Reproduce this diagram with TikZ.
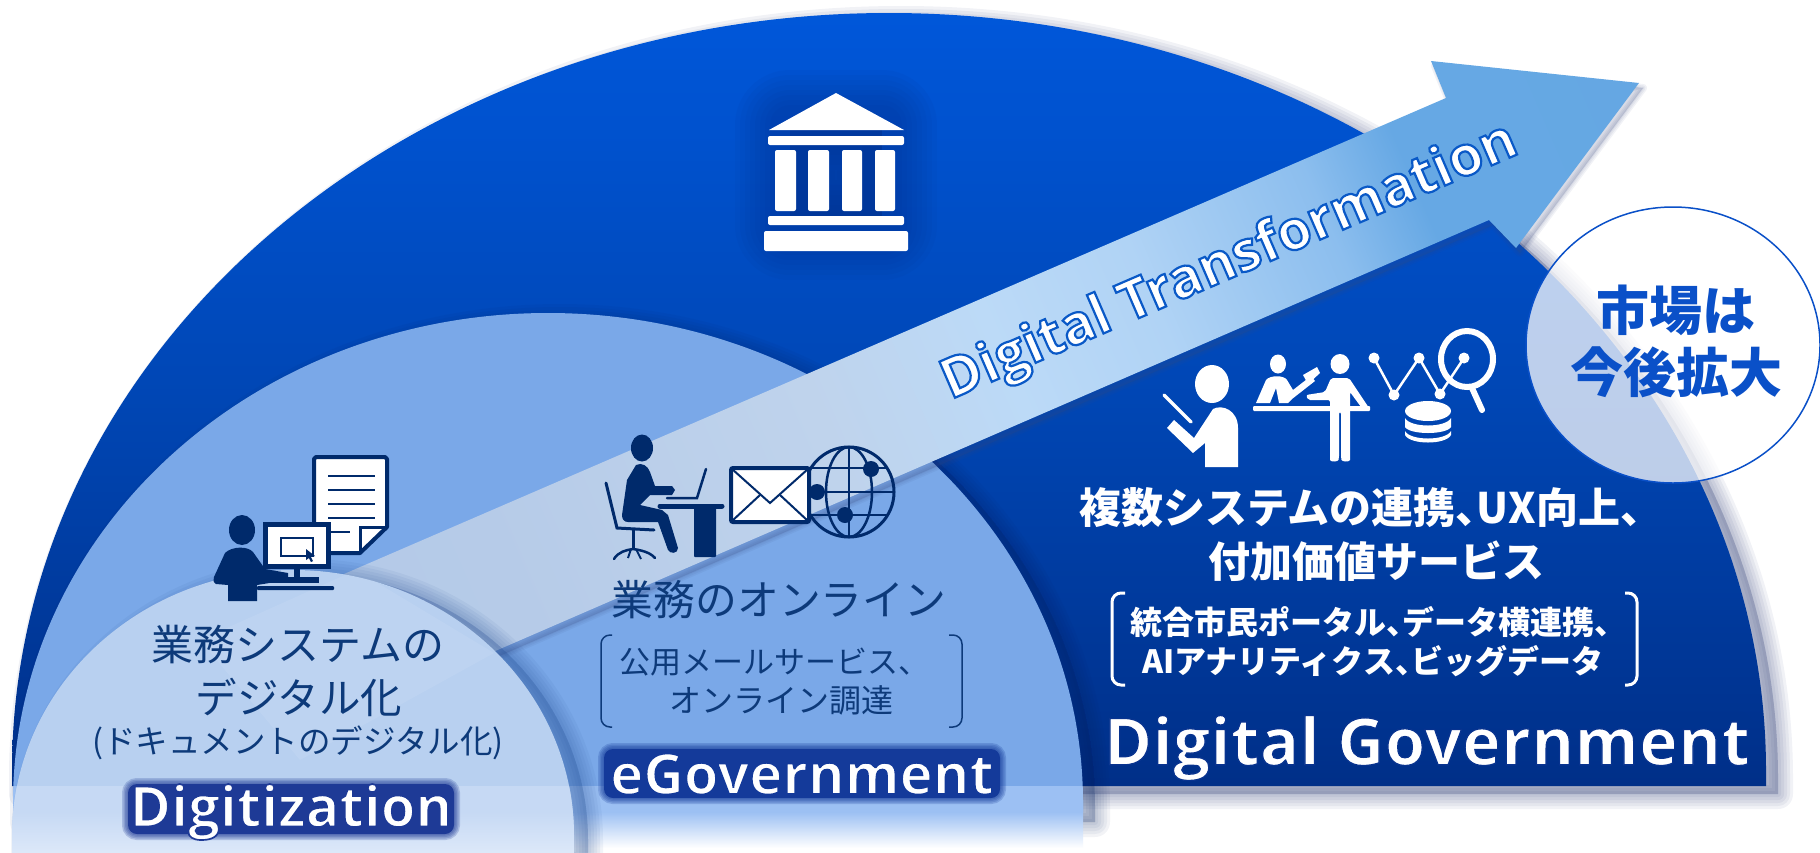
\documentclass[tikz,border=0pt]{standalone}
\usepackage{fontspec}
\usetikzlibrary{calc}
\setmainfont{Noto Sans}
\newfontfamily\cjk{Noto Sans CJK JP}
\newfontfamily\strkT[FakeBold=4]{Open Sans}
\newfontfamily\strkB[FakeBold=3]{Open Sans}
\newfontfamily\strkG[FakeBold=2,LetterSpace=1]{Open Sans}
\newcommand\fsz[1]{\fontsize{#1pt}{#1pt}\selectfont}
\newcommand\hc{\makebox[.5em][l]{、}}
\definecolor{navyicon}{HTML}{002A6B}
\definecolor{inktext}{HTML}{0D3A7A}
\definecolor{midblue}{HTML}{7AA8E8}
\definecolor{midband}{HTML}{9CC0F3}
\definecolor{lowblue}{HTML}{B8D0F0}
\definecolor{lowband}{HTML}{C6D9F4}
\definecolor{lowfade}{HTML}{DCE8F9}
\definecolor{domeA}{HTML}{0057DA}
\definecolor{domeB}{HTML}{0046B4}
\definecolor{domeC}{HTML}{002F88}
\definecolor{cA}{HTML}{A8C4EA}
\definecolor{cB}{HTML}{B6CBE8}
\definecolor{cC}{HTML}{BFD3EC}
\definecolor{cD}{HTML}{BCDAF7}
\definecolor{cE}{HTML}{B0D3F5}
\definecolor{cF}{HTML}{8CBEEE}
\definecolor{cG}{HTML}{66A8E4}
\definecolor{cH}{HTML}{62A5E0}
\definecolor{marketblue}{HTML}{0A50C8}
\pgfdeclarehorizontalshading{dtarrow}{100bp}{color(0bp)=(cA);color(33bp)=(cB);color(44bp)=(cC);color(50bp)=(cD);color(55bp)=(cE);color(61bp)=(cF);color(64bp)=(cG);color(100bp)=(cH)}
\pgfdeclareverticalshading{bigdomeshade}{100bp}{color(0bp)=(domeC);color(25bp)=(domeC);color(50bp)=(domeB);color(75bp)=(domeA);color(100bp)=(domeA)}
\newcommand\domepath[5]{%
  ({#1-#3},#5) -- ({#1-#3},#2)
  .. controls ({#1-#3},{#2-.5523*#4}) and ({#1-.5523*#3},{#2-#4}) .. (#1,{#2-#4})
  .. controls ({#1+.5523*#3},{#2-#4}) and ({#1+#3},{#2-.5523*#4}) .. ({#1+#3},#2)
  -- ({#1+#3},#5) -- cycle}
\def\bigdome{\domepath{889}{771}{877}{758}{786}}
\def\middome{\domepath{548}{803}{535}{490}{812}}
\def\middomeS{\domepath{548}{803}{535}{490}{816}}
\def\lowdome{\domepath{293}{836}{281}{266}{860}}
\def\arrowpath{(300,593) -- (1446,98) -- (1431,61) -- (1639,83) -- (1516,248) -- (1489,220) -- (440,675) -- cycle}
\newcommand\softshadow[6][.07]{%
  \foreach \w in {#6}{\path[draw=#2,fill=#2,line width=\w pt,line join=round,opacity=#1,shift={(#3,#4)}] #5;}}
% one text: white fill, coloured outline (stroke set by the faux-bold font)
\newcommand\halonode[7][0]{% rot, name, pos, font, rgb stroke, size, text
  \node[inner sep=0pt,rotate=#1] (#2) at (#3) {\color{white}\special{pdf:code #5 RG}#4\bfseries\fsz{#6}#7};}
\tikzset{
  cjkthin/.style={text=inktext,inner sep=0pt,font=\cjk},
  cjkwhite/.style={text=white,inner sep=0pt,font=\cjk\bfseries},
  brk/.style={rounded corners=9pt,line width=#1},
  brk/.default=1.5pt
}
\begin{document}
\begin{tikzpicture}[x=1pt,y=-1pt,line cap=butt]
\useasboundingbox (0,0) rectangle (1820,852);
\clip (0,0) rectangle (1820,852);
\fill[white] (0,0) rectangle (1820,852);
% big dome
\definecolor{shadowc}{HTML}{3A4A80}
\softshadow{shadowc}{12}{8}{\bigdome}{6,12,18,24,30}
\shade[shading=bigdomeshade] \bigdome;
% middle dome
\definecolor{shadowd}{HTML}{002060}
\softshadow[.05]{shadowd}{12}{6}{\middomeS}{6,12,18,24,30}
\fill[midblue] \middome;
\begin{scope}
  \clip (0,786) rectangle (1820,812);
  \fill[midband] \middome;
\end{scope}
\shade[top color=midband,bottom color=white] (13,812) rectangle (1083,848);
% arrow
\softshadow{shadowc}{4}{5}{\arrowpath}{2,5,8}
\begin{scope}
  \clip \arrowpath;
  \shade[shading=dtarrow,shading angle=23.4] (200,-450) rectangle (1800,1150);
\end{scope}
% small dome
\definecolor{shadowe}{HTML}{204A90}
\softshadow[.06]{shadowe}{14}{4}{\lowdome}{6,12,18,24,30}
\fill[lowblue] \lowdome;
\begin{scope}
  \clip \lowdome;
  \fill[white,opacity=.08] (300,760) -- (494,653) -- (356,570) -- (200,640) -- cycle;
  \fill[lowband] (0,786) rectangle (600,812);
  \shade[top color=lowband,bottom color=lowfade] (0,812) rectangle (600,852);
\end{scope}
% bank icon
\softshadow[.06]{domeC}{0}{0}{(790,125) -- (882,125) -- (882,225) -- (790,225) -- cycle}{40,50,60,70,80,90,100,110}
\fill[white] (836,93) -- (904,130) -- (769,130) -- cycle;
\fill[white,rounded corners=2pt] (768,136) rectangle (904,145);
\foreach \a/\b in {775/796,808/829,842/862,875/895}{\fill[white,rounded corners=2pt] (\a,150) rectangle (\b,211);}
\fill[white,rounded corners=2pt] (768,216) rectangle (904,225);
\fill[white,rounded corners=2pt] (764,231) rectangle (908,251);
% digitization icon
\begin{scope}[navyicon]
  \draw[line width=4pt,fill=white,line join=round] (316,457) -- (385,457) -- (387,459) -- (387,527) -- (360,553) -- (316,553) -- (314,551) -- (314,459) -- cycle;
  \draw[line width=3pt] (360,553) -- (360,527) -- (387,527);
  \foreach \y in {476,490,504,518}{\draw[line width=2.5pt] (328,\y) -- (375,\y);}
  \draw[line width=2.5pt] (328,532) -- (350,532);
  \draw[line width=5pt,fill=white] (265.5,524.5) rectangle (328.5,566.5);
  \draw[line width=2pt] (281,538) rectangle (313,556);
  \fill (306,549) -- (315,556) -- (311,557) -- (313,561) -- (311,562) -- (309,558) -- (306,560) -- cycle;
  \fill (294,569) rectangle (300,577);
  \fill (261,577) rectangle (319,583);
  \fill[rounded corners=1pt] (257,586) rectangle (334,590);
  \fill (242,530) ellipse [x radius=13,y radius=15];
  \fill (225,553) .. controls (232,546) and (248,546) .. (253,552) -- (265,569) -- (288,573) -- (288,580) -- (257,585) -- (257,601) -- (228,601) -- (228,585) -- (216,584) .. controls (213,582) and (213,580) .. (214,577) -- cycle;
\end{scope}
% eGovernment icon
\begin{scope}[navyicon]
  \fill (642,448) ellipse [x radius=11,y radius=13.5];
  \fill (636,465) .. controls (642,462) and (648,466) .. (650,472) -- (655,486) -- (672,486) -- (675,490) -- (672,495) -- (650,495) -- (640,505) -- (662,510) -- (668,515) -- (678,548) .. controls (678,554) and (670,554) .. (668,550) -- (658,522) -- (628,522) .. controls (624,522) and (622,519) .. (622,515) -- (627,480) -- cycle;
  \draw[line width=3pt,line cap=round] (606,483) -- (617,528) -- (654,530);
  \draw[line width=3pt] (633,530) -- (633,548);
  \draw[line width=2.5pt,line cap=round] (614,559) .. controls (618,552) and (626,550) .. (633,549) .. controls (640,550) and (650,552) .. (655,558);
  \draw[line width=2pt] (628,558) -- (631,549) (641,559) -- (636,549);
  \draw[line width=2.5pt,line cap=round] (706,469) -- (697,498) -- (667,498);
  \draw[line width=5pt,line cap=round] (660,506) -- (722,506);
  \fill[rounded corners=1pt] (694,506) rectangle (716,557);
  \draw[line width=3pt] (849,492) circle [radius=45];
  \draw[line width=2.5pt] (849,492) ellipse [x radius=23,y radius=45];
  \draw[line width=2.5pt] (849,447) -- (849,537);
  \draw[line width=2.5pt] (810,468) -- (888,468) (804,492) -- (894,492) (810,515) -- (888,515);
  \fill (871,469) circle [radius=8];
  \fill (845,515) circle [radius=8];
  \fill (817,492) circle [radius=8];
  \draw[line width=4pt,fill=white,rounded corners=2pt] (731,468) rectangle (809,522);
  \draw[line width=2pt] (732,469) -- (770,503) -- (808,469);
  \draw[line width=2pt] (732,521) -- (760,495) (808,521) -- (780,495);
\end{scope}
% digital government icon
\begin{scope}[white]
  \fill (1212,384) ellipse [x radius=17,y radius=19];
  \draw[line width=3.5pt,line cap=round] (1164,395) -- (1191,422);
  \fill (1213,409) .. controls (1222,404) and (1238,410) .. (1238,428) -- (1238,467) -- (1205,467) -- (1205,443) -- (1193,453) -- (1167,428) -- (1174,420) -- (1194,438) -- cycle;
  \fill (1278,364) ellipse [x radius=8,y radius=9.5];
  \fill (1256,403) -- (1266,380) .. controls (1270,375) and (1284,375) .. (1287,380) -- (1293,390) -- (1311,376) -- (1315,381) -- (1292,399) -- (1288,403) -- (1279,403) -- (1276,388) -- (1270,403) -- cycle;
  \fill (1303,375) -- (1317,367) -- (1320,373) -- (1308,384) -- cycle;
  \fill[rounded corners=1pt] (1253,406) rectangle (1370,411);
  \fill (1340,364) ellipse [x radius=9.5,y radius=10];
  \fill[rounded corners=2pt] (1331,378) -- (1349,378) -- (1369,408) -- (1364,411) -- (1350,392) -- (1350,458) .. controls (1350,462) and (1342,462) .. (1341,458) -- (1341,412) -- (1339,412) -- (1339,458) .. controls (1338,462) and (1330,462) .. (1330,458) -- (1330,400) -- (1308,400) -- (1306,395) -- (1325,392) -- cycle;
  \draw[line width=2.5pt] (1374,358) -- (1394,395) -- (1419,358) -- (1440,394) -- (1464,358);
  \foreach \p in {(1374,358),(1394,395),(1419,358),(1440,394),(1464,358)}{\fill \p circle [radius=5.5];}
  \draw[line width=6pt] (1467,359) ellipse [x radius=26,y radius=28];
  \draw[line width=6pt,line cap=round] (1472,388) -- (1482,410);
  \fill (1428,411) ellipse [x radius=23,y radius=10];
  \fill (1405,418) .. controls (1410,428) and (1446,428) .. (1451,418) -- (1451,427) .. controls (1446,435) and (1410,435) .. (1405,427) -- cycle;
  \fill (1405,431) .. controls (1410,441) and (1446,441) .. (1451,431) -- (1451,435) .. controls (1446,445) and (1410,445) .. (1405,435) -- cycle;
\end{scope}
% market circle
\fill[white,opacity=.74] (1673,345) ellipse [x radius=147,y radius=138];
\draw[marketblue,line width=1.5pt] (1673,345) ellipse [x radius=147,y radius=138];
\node[text=marketblue,inner sep=0pt,font=\cjk\bfseries] (market1) at (1676,310) {\fsz{53}市場は};
\node[text=marketblue,inner sep=0pt,font=\cjk\bfseries] (market2) at (1676,372) {\fsz{53}今後拡大};
% labels
\node[cjkthin] (d1) at (298,645) {\fsz{42}業務システムの};
\node[cjkthin] (d2) at (299,697) {\fsz{41.5}デジタル化};
\node[cjkthin] (d3) at (298,743) {\fsz{32.5}(ドキュメントのデジタル化)};
\node[cjkthin] (e1) at (779,600) {\fsz{41.8}業務のオンライン};
\node[cjkthin,anchor=west] (e2) at (619,662) {\fsz{31}公用メールサービス、};
\node[cjkthin,anchor=west] (e3) at (669,700) {\fsz{32}オンライン調達};
\draw[inktext,brk] (612,635) -- (601,635) -- (601,727) -- (612,727);
\draw[inktext,brk] (949,635) -- (962,635) -- (962,727) -- (949,727);
\node[cjkwhite,anchor=west] (g1) at (1079,508) {\fsz{42}複数システムの連携\hc UX向上\hc};
\node[cjkwhite] (g2) at (1376,561) {\fsz{42}付加価値サービス};
\node[cjkwhite,anchor=west] (g3) at (1130,622) {\fsz{32}統合市民ポータル\hc データ横連携\hc};
\node[cjkwhite,anchor=west] (g4) at (1142,661) {\fsz{32}AIアナリティクス\hc ビッグデータ};
\draw[white,brk=3pt] (1125,593) -- (1112,593) -- (1112,685) -- (1125,685);
\draw[white,brk=3pt] (1625,593) -- (1637,593) -- (1637,685) -- (1625,685);
\definecolor{haloD}{HTML}{1E3A96}
\definecolor{haloE}{HTML}{143A9A}
\definecolor{haloG}{HTML}{08348F}
\foreach \w in {3,6,9,12}{\draw[haloD,opacity=.22,rounded corners=9pt,line width=\w pt] (128,784) rectangle (454,834);}
\fill[haloD,rounded corners=9pt] (128,784) rectangle (454,834);
\foreach \w in {3,6,9,12}{\draw[haloE,opacity=.22,rounded corners=9pt,line width=\w pt] (604,749) rectangle (1000,798);}
\fill[haloE,rounded corners=9pt] (604,749) rectangle (1000,798);
\foreach \w in {8,16,24}{\draw[haloG,opacity=.05,rounded corners=12pt,line width=\w pt] (1112,722) rectangle (1745,768);}
\fill[haloG,opacity=.12,rounded corners=12pt] (1112,722) rectangle (1745,768);
\halonode{digit}{291,812}{\strkB}{.118 .227 .588}{56}{Digitization}
\halonode{egov}{802,774}{\strkB}{.078 .227 .604}{56}{eGovernment}
\halonode{dgov}{1427,748}{\strkG}{.03 .2 .56}{65}{Digital Government}
\halonode[23.4]{dt}{1230,263}{\strkT}{.04 .35 .78}{55}{Digital Transformation}
\end{tikzpicture}
\end{document}
